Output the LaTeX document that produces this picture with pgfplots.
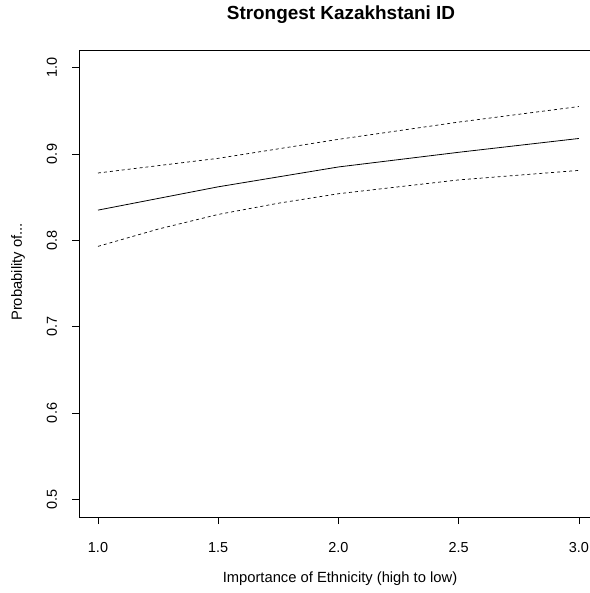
\documentclass[border=0pt]{standalone}
\usepackage{pgfplots}
\pgfplotsset{compat=1.18}
\usepackage{fontspec}
\setmainfont{Liberation Sans}
\begin{document}
\begin{tikzpicture}[x=1bp,y=1bp]
\useasboundingbox (-79,-76) rectangle (511,517);
\begin{axis}[
  at={(0,0)}, anchor=south west,
  scale only axis, width=511bp, height=467bp,
  xmin=0.921, xmax=3.046, ymin=0.4795, ymax=1.0205,
  axis x line=box, axis y line*=left,
  axis line style={line width=0.8pt},
  xtick={1,1.5,2,2.5,3}, ytick={0.5,0.6,0.7,0.8,0.9,1.0},
  xticklabels={1.0,1.5,2.0,2.5,3.0},
  yticklabels={0.5,0.6,0.7,0.8,0.9,1.0},
  tick align=outside, major tick length=7bp,
  tick style={black, line width=0.6pt},
  xtick pos=bottom, ytick pos=left,
  ticklabel style={font=\fontsize{14.5}{16}\selectfont},
  yticklabel style={rotate=90, anchor=south, yshift=11.5bp},
  xticklabel style={yshift=-15bp},
  /pgf/number format/assume math mode=true,
  clip=false,
]
\addplot[black, line width=0.8pt] coordinates {(1.0,0.835) (1.5,0.862) (2.0,0.885) (2.5,0.902) (3.0,0.918)};
\addplot[black, line width=0.7pt, dash pattern=on 3pt off 3pt] coordinates {(1.0,0.878) (1.5,0.895) (2.0,0.917) (2.5,0.937) (3.0,0.955)};
\addplot[black, line width=0.7pt, dash pattern=on 3pt off 3pt] coordinates {(1.0,0.793) (1.25,0.813) (1.5,0.830) (1.75,0.843) (2.0,0.854) (2.5,0.870) (3.0,0.881)};
\end{axis}
\node[font=\bfseries\fontsize{19}{22}\selectfont] at (262,502) {Strongest Kazakhstani ID};
\node[font=\fontsize{14.8}{17}\selectfont] at (261,-62) {Importance of Ethnicity (high to low)};
\node[font=\fontsize{14.8}{17}\selectfont, rotate=90] at (-61,245) {Probability of...};
\end{tikzpicture}
\end{document}
